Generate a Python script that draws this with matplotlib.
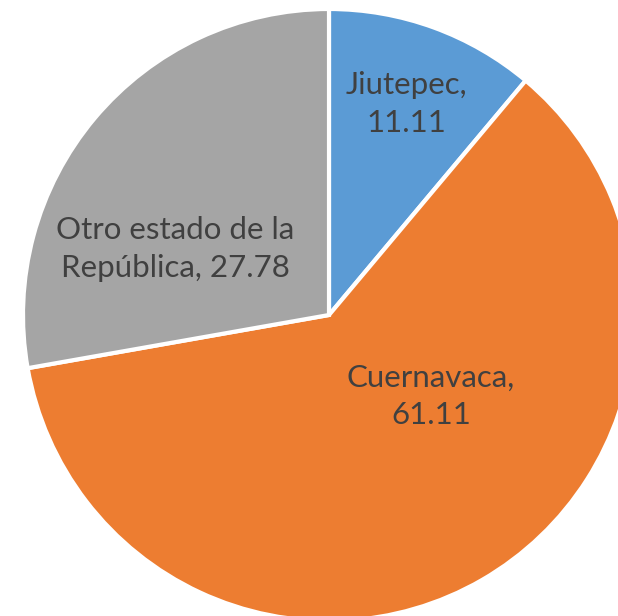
import matplotlib
matplotlib.use("Agg")
import matplotlib.pyplot as plt

categories = ["Jiutepec", "Cuernavaca", "Otro estado de la\nRepública"]
values = [11.11, 61.11, 27.78]
colors = ["#5B9BD5", "#ED7D31", "#A5A5A5"]

W, H = 618, 616
cx, cy = 329, 315
R = 306

fig = plt.figure(figsize=(W / 100, H / 100), dpi=100)
ax = fig.add_axes([0, 0, 1, 1])

wedges, _ = ax.pie(values, colors=colors, startangle=90, counterclock=False,
                   radius=R, center=(0, 0), frame=True,
                   wedgeprops=dict(edgecolor="white", linewidth=3))
ax.set_xlim(-cx, W - cx)
ax.set_ylim(-(H - cy), cy)
ax.set_aspect("equal")
ax.axis("off")

label_pos = [(406 - cx, cy - 104), (431 - cx, cy - 396), (175 - cx, cy - 249)]
for (x, y), cat, v in zip(label_pos, categories, values):
    txt = f"{cat}, {v:.2f}" if "\n" in cat else f"{cat},\n{v:.2f}"
    ax.text(x, y, txt, ha="center", va="center", fontsize=22.5, color="#404040",
            family="Lato", linespacing=1.4)

fig.savefig("out.png", dpi=100)
